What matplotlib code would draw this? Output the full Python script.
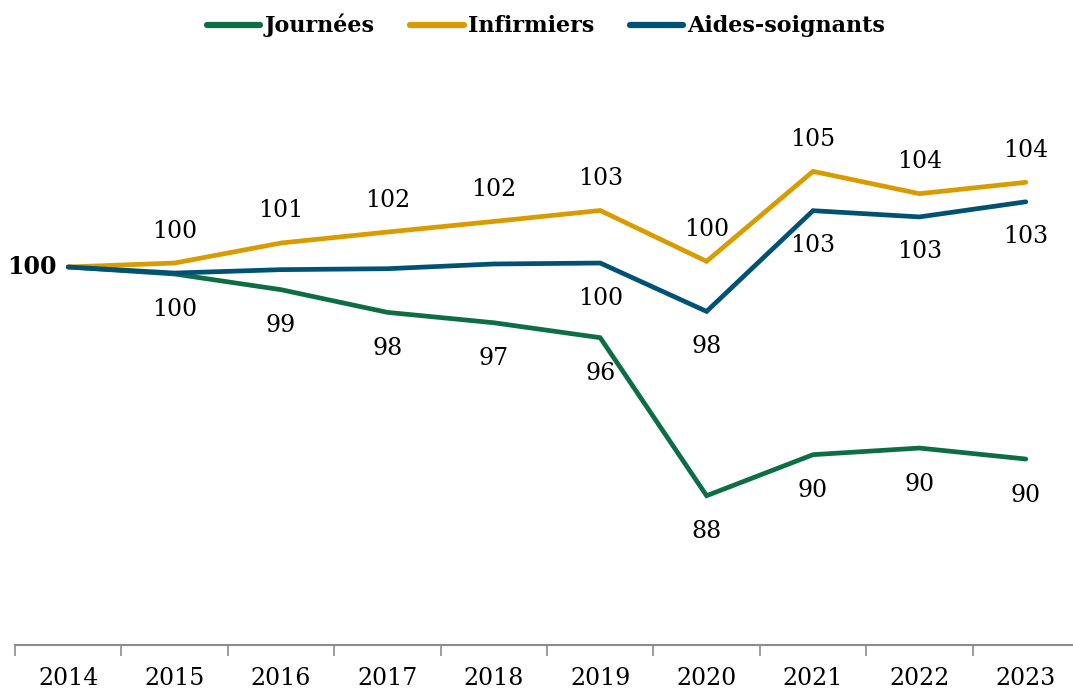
import matplotlib
matplotlib.use('Agg')
import matplotlib.pyplot as plt
from matplotlib.ticker import FixedLocator

plt.rcParams['font.family'] = ['DejaVu Serif']

years = ['2014', '2015', '2016', '2017', '2018', '2019', '2020', '2021', '2022', '2023']

journees = [100, 99.63, 98.8, 97.6, 97.05, 96.26, 87.9, 90.07, 90.42, 89.84]
infirmiers = [100, 100.21, 101.27, 101.85, 102.41, 102.99, 100.3, 105.06, 103.88, 104.48]
aides = [100, 99.68, 99.86, 99.91, 100.16, 100.21, 97.65, 102.98, 102.65, 103.45]

# which points get a data label
show_journees = [False, True, True, True, True, True, True, True, True, True]
show_infirmiers = [False, True, True, True, True, True, True, True, True, True]
show_aides = [False, False, False, False, False, True, True, True, True, True]

green = '#0D6E45'
gold = '#D99C00'
blue = '#005274'

fig = plt.figure(figsize=(10.73, 6.9), dpi=100)
# axes slightly wider than the figure, right edge gets cut like the original
ax = fig.add_axes([15 / 1073, 45 / 690, 1064 / 1073, 567 / 690])

x = list(range(len(years)))
series = [
    ('Journées', journees, green, show_journees, -36),
    ('Infirmiers', infirmiers, gold, show_infirmiers, 32),
    ('Aides-soignants', aides, blue, show_aides, -35),
]

for name, vals, col, show, off in series:
    ax.plot(x, vals, color=col, lw=3.4, label=name, solid_capstyle='round',
            solid_joinstyle='miter')

for name, vals, col, show, off in series:
    for i, v in enumerate(vals):
        if show[i]:
            ax.annotate(f'{v:.0f}', (i, v), xytext=(0, off), textcoords='offset pixels',
                        ha='center', va='center', fontsize=17, color='black')

ax.annotate('100', (0, journees[0]), xytext=(-36, 0), textcoords='offset pixels',
            ha='center', va='center', fontsize=17, fontweight='bold', color='black')

ax.set_xlim(-0.5, len(years) - 0.5)
ax.set_ylim(80, 110)

for s in ['top', 'left', 'right']:
    ax.spines[s].set_visible(False)
ax.spines['bottom'].set_color('#8c8c8c')
ax.spines['bottom'].set_linewidth(1.5)
ax.set_yticks([])

ax.set_xticks(x)
ax.set_xticklabels(years, fontsize=17)
ax.xaxis.set_minor_locator(FixedLocator([i - 0.5 for i in range(len(years) + 1)]))
ax.tick_params(axis='x', which='major', length=0, pad=16)
ax.tick_params(axis='x', which='minor', length=8, width=1.2, color='#8c8c8c', direction='out')

leg = fig.legend(loc='center', bbox_to_anchor=(0.509, 0.963), ncol=3, frameon=False,
                 prop={'weight': 'bold', 'size': 16}, handlelength=2.4, handletextpad=0.2,
                 columnspacing=1.6)
for h in leg.get_lines():
    h.set_linewidth(4.5)

fig.savefig('out.png', dpi=100)
